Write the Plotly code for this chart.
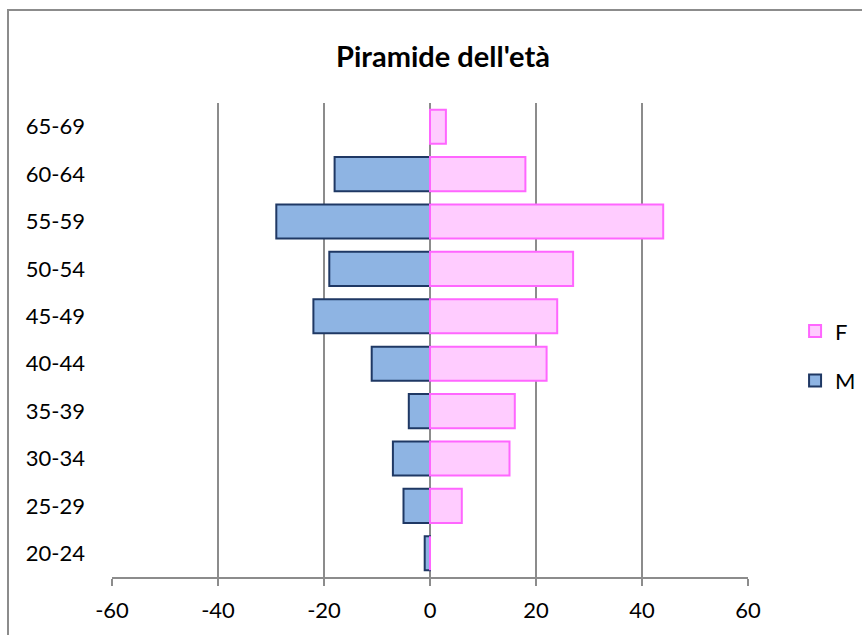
import plotly.graph_objects as go

categories = ["20-24", "25-29", "30-34", "35-39", "40-44", "45-49", "50-54", "55-59", "60-64", "65-69"]
male = [-1, -5, -7, -4, -11, -22, -19, -29, -18, 0]
female = [0, 6, 15, 16, 22, 24, 27, 44, 18, 3]
x_ticks = [-60, -40, -20, 0, 20, 40, 60]
x_tick_text = ["-60", "-40", "-20", "0", "20", "40", "60"]
title_text = "Piramide dell'età"

FONT = "Lato"
GRID = "#8c8c8c"

fig = go.Figure()
fig.add_trace(go.Bar(
    y=categories, x=male, orientation="h", name="M", legendgroup="M", legendrank=2,
    marker=dict(color="#8EB4E3", line=dict(color="#1F3864", width=2)),
))
fig.add_trace(go.Bar(
    y=categories, x=female, orientation="h", name="F", legendgroup="F", legendrank=1,
    marker=dict(color="#FFCCFF", line=dict(color="#FF66FF", width=2)),
))

fig.update_layout(
    width=862, height=635,
    margin=dict(l=112, r=114, t=103, b=58, autoexpand=False),
    paper_bgcolor="white", plot_bgcolor="white",
    barmode="relative", bargap=0.28,
    font=dict(family=FONT, size=22, color="black"),
    title=dict(text="<b>" + title_text + "</b>", x=443 / 862, xanchor="center",
               y=1 - 57 / 635, yanchor="middle", font=dict(family=FONT, size=29)),
    legend=dict(x=1.074, xanchor="left", y=0.466, yanchor="middle",
                traceorder="grouped", tracegroupgap=18, itemwidth=30,
                font=dict(family=FONT, size=22), bgcolor="rgba(0,0,0,0)"),
    xaxis=dict(range=[-60, 60], tickvals=x_ticks, ticktext=x_tick_text,
               showgrid=True, gridcolor=GRID, gridwidth=2,
               zeroline=True, zerolinecolor=GRID, zerolinewidth=2,
               showline=True, linecolor=GRID, linewidth=2,
               ticks="outside", ticklen=7, tickwidth=2, tickcolor=GRID,
               ticklabelstandoff=6, fixedrange=True),
    yaxis=dict(categoryorder="array", categoryarray=categories, showgrid=False,
               zeroline=False, showline=False, ticks="", ticklabelstandoff=26,
               fixedrange=True),
    shapes=[dict(type="rect", xref="paper", yref="paper",
                 x0=(8 - 112) / 636, x1=1.6, y0=-0.5, y1=1 + (103 - 10) / 474,
                 line=dict(color="#8c8c8c", width=2), fillcolor="rgba(0,0,0,0)", layer="below")],
)

fig.write_html("out.html", config={"displayModeBar": False},
               post_script="document.body.style.margin='0px';")
